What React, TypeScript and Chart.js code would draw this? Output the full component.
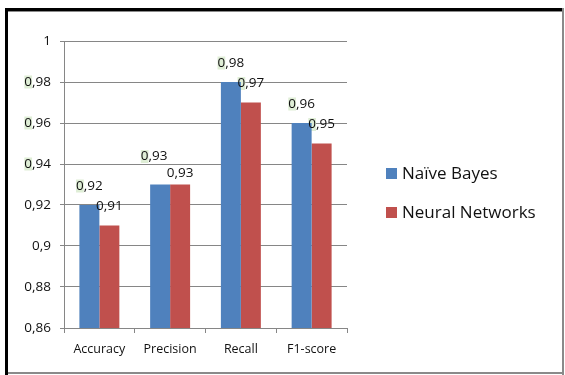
import React, { useEffect, useRef } from "react";
import { Chart, registerables } from "chart.js";

Chart.register(...registerables);

const categories = ["Accuracy", "Precision", "Recall", "F1-score"];
const naiveBayes = [0.92, 0.93, 0.98, 0.96];
const neuralNetworks = [0.91, 0.93, 0.97, 0.95];
const seriesNames = ["Naïve Bayes", "Neural Networks"];
const seriesColors = ["#4F81BD", "#C0504D"];
const yMin = 0.86;
const yMax = 1;
const yStep = 0.02;
// which labels carry the pale green mark behind the leading "0"
const highlightedTicks = [0.98, 0.96, 0.94];
const highlightedLabels = [
  [true, true, true, true],
  [false, false, true, true],
];

const FONT = "'Open Sans', 'Liberation Sans', sans-serif";
const HL = "#DFEED6";
const fmt = (v: number) => String(Number(v.toFixed(2))).replace(".", ",");

// label positions: above each bar, pushed apart when two labels collide
function labelPositions(chart: any) {
  const out: { x: number; y: number; text: string; di: number; i: number }[][] = [];
  chart.data.datasets.forEach((ds: any, di: number) => {
    const meta = chart.getDatasetMeta(di);
    out.push(
      meta.data.map((bar: any, i: number) => ({
        x: bar.x,
        y: bar.y - 19,
        text: fmt(ds.data[i]),
        di,
        i,
      }))
    );
  });
  if (out.length === 2) {
    out[0].forEach((a, i) => {
      const b = out[1][i];
      if (Math.abs(a.y - b.y) < 14) {
        a.y -= 9;
        b.y += 8;
        a.x -= 6;
      }
    });
  }
  return out;
}

export default function App() {
  const ref = useRef<HTMLCanvasElement | null>(null);

  useEffect(() => {
    if (!ref.current) return;

    const labelFont = `13.5px ${FONT}`;
    const tickFont = 13.5;

    const plugin = {
      id: "custom",
      beforeDraw(chart: any) {
        const ctx = chart.ctx;
        ctx.save();
        ctx.fillStyle = "#fff";
        ctx.fillRect(0, 0, chart.width, chart.height);
        const ys = chart.scales.y;
        ctx.font = `${tickFont}px ${FONT}`;
        const right = ys.right - 4 - 9;
        highlightedTicks.forEach((v) => {
          const t = fmt(v);
          const w = ctx.measureText(t).width;
          const w0 = ctx.measureText("0").width;
          const py = ys.getPixelForValue(v);
          ctx.fillStyle = HL;
          ctx.fillRect(right - w, py - 6.5, w0, 13);
        });
        ctx.restore();
      },
      beforeDatasetsDraw(chart: any) {
        const ctx = chart.ctx;
        ctx.save();
        ctx.font = labelFont;
        labelPositions(chart).forEach((row) =>
          row.forEach((p) => {
            if (!highlightedLabels[p.di][p.i]) return;
            const w = ctx.measureText(p.text).width;
            const w0 = ctx.measureText("0").width;
            ctx.fillStyle = HL;
            ctx.fillRect(p.x - w / 2, p.y - 6.5, w0, 13);
          })
        );
        ctx.restore();
      },
      afterDatasetsDraw(chart: any) {
        const ctx = chart.ctx;
        ctx.save();
        ctx.font = labelFont;
        ctx.fillStyle = "#111";
        ctx.textAlign = "center";
        ctx.textBaseline = "middle";
        labelPositions(chart).forEach((row) =>
          row.forEach((p) => ctx.fillText(p.text, p.x, p.y))
        );
        ctx.restore();
      },
      afterDraw(chart: any) {
        const ctx = chart.ctx;
        ctx.save();
        // legend
        ctx.font = `17px ${FONT}`;
        ctx.textBaseline = "middle";
        ctx.textAlign = "left";
        chart.data.datasets.forEach((ds: any, di: number) => {
          const cy = 173.5 + di * 39;
          ctx.fillStyle = ds.backgroundColor;
          ctx.fillRect(386, cy - 5.5, 11, 11);
          ctx.fillStyle = "#111";
          ctx.fillText(ds.label, 402, cy + 0.5);
        });
        // frame
        ctx.fillStyle = "#000";
        ctx.fillRect(5, 8, 558, 3);
        ctx.fillRect(5, 8, 3, 367);
        ctx.fillStyle = "#8a8a8a";
        ctx.fillRect(8, 11, 555, 1);
        ctx.fillRect(562, 8, 2, 367);
        ctx.fillRect(8, 372, 556, 2);
        ctx.restore();
      },
    };

    const chart = new Chart(ref.current, {
      type: "bar",
      data: {
        labels: categories,
        datasets: [
          { label: seriesNames[0], data: naiveBayes, backgroundColor: seriesColors[0] },
          { label: seriesNames[1], data: neuralNetworks, backgroundColor: seriesColors[1] },
        ],
      },
      options: {
        animation: false,
        responsive: false,
        devicePixelRatio: 1,
        layout: { padding: { left: 0, right: 218, top: 41, bottom: 0 } },
        datasets: { bar: { categoryPercentage: 0.565, barPercentage: 1 } },
        plugins: { legend: { display: false }, tooltip: { enabled: false } },
        scales: {
          x: {
            afterFit: (s: any) => { s.height = 47; },
            grid: { drawOnChartArea: false, drawTicks: true, tickLength: 5, color: "#868686", offset: true },
            border: { color: "#868686" },
            ticks: { color: "#111", font: { family: FONT, size: 12.5 }, padding: 9 },
          },
          y: {
            min: yMin,
            max: yMax,
            afterFit: (s: any) => { s.width = 64; },
            grid: { color: "#868686", tickLength: 4 },
            border: { color: "#868686" },
            ticks: {
              stepSize: yStep,
              padding: 9,
              color: "#111",
              font: { family: FONT, size: tickFont },
              callback: (v: any) => fmt(Number(v)),
            },
          },
        },
      },
      plugins: [plugin],
    } as any);

    return () => chart.destroy();
  }, []);

  return (
    <div style={{ position: "fixed", left: 0, top: 0, width: 565, height: 375 }}>
      <canvas ref={ref} width={565} height={375} style={{ width: 565, height: 375 }} />
    </div>
  );
}
